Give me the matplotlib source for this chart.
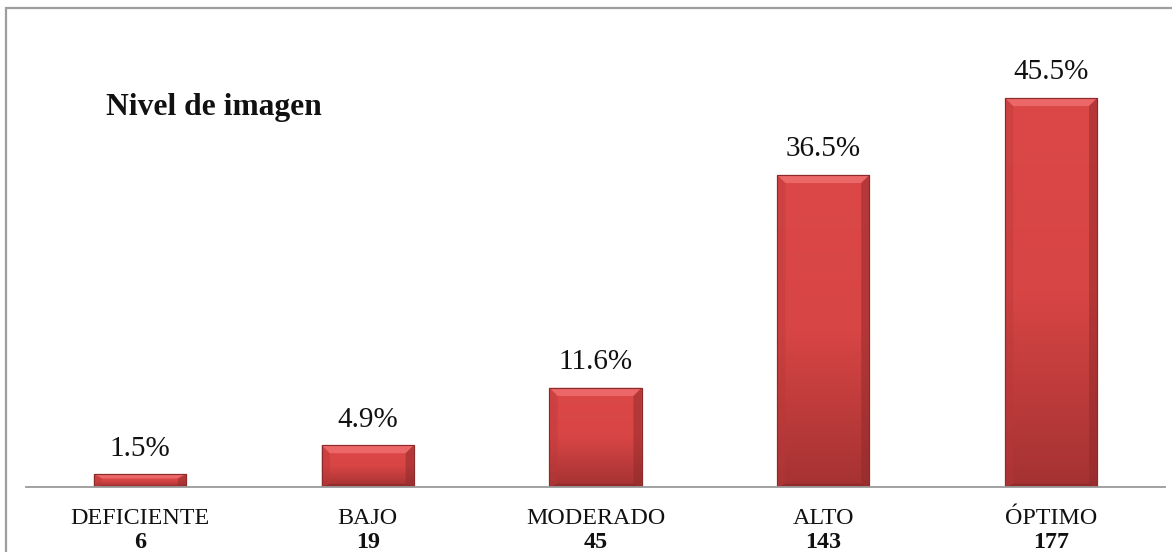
import numpy as np
import matplotlib.pyplot as plt
from matplotlib.patches import Rectangle, Polygon
from matplotlib.colors import LinearSegmentedColormap

# Chart data
categories = ["DEFICIENTE", "BAJO", "MODERADO", "ALTO", "ÓPTIMO"]
counts = [6, 19, 45, 143, 177]
percents = [1.5, 4.9, 11.6, 36.5, 45.5]

SERIF = ["Liberation Serif", "DejaVu Serif"]
BAR_W = 0.405

fig = plt.figure(figsize=(11.72, 5.52), dpi=100)
ax = fig.add_axes([26 / 1172, 65 / 552, (1165 - 26) / 1172, (487 - 20) / 552])

# gray frame around the chart (cut off on the right and bottom like the original)
fig.patches.append(Rectangle((6 / 1172, -0.1), 1.2, (552 - 8) / 552 + 0.1,
                             transform=fig.transFigure, fill=False,
                             edgecolor="#9e9e9e", linewidth=1.6, zorder=0))

x = np.arange(len(categories))
bars = ax.bar(x, percents, width=BAR_W, color="#d44141", edgecolor="#8a2a2a",
              linewidth=0.8, zorder=2)

ax.set_xlim(-0.5, len(categories) - 0.5)
ax.set_ylim(0, (487 - 20) / 8.55)

# gradient fill + bevel for each bar
grad = LinearSegmentedColormap.from_list("g", ["#a53232", "#d84545", "#dc4848"])
gimg = np.linspace(0, 1, 256).reshape(-1, 1)
for b in bars:
    x0, w, h = b.get_x(), b.get_width(), b.get_height()
    im = ax.imshow(gimg, cmap=grad, origin="lower", aspect="auto",
                   extent=(x0, x0 + w, 0, h), zorder=2.1)
    im.set_clip_path(b)
    bx = 0.036
    by = min(0.95, h / 3)
    top = Polygon([(x0, h), (x0 + w, h), (x0 + w - bx, h - by), (x0 + bx, h - by)],
                  closed=True, facecolor="#ef6b6b", edgecolor="none", alpha=0.9, zorder=2.2)
    left = Polygon([(x0, 0), (x0, h), (x0 + bx, h - by), (x0 + bx, by * 0.4)],
                   closed=True, facecolor="#b83838", edgecolor="none", alpha=0.4, zorder=2.2)
    right = Polygon([(x0 + w, 0), (x0 + w, h), (x0 + w - bx, h - by), (x0 + w - bx, by * 0.4)],
                    closed=True, facecolor="#8f2a2a", edgecolor="none", alpha=0.5, zorder=2.2)
    bot = Polygon([(x0, 0), (x0 + w, 0), (x0 + w - bx, by * 0.4), (x0 + bx, by * 0.4)],
                  closed=True, facecolor="#7e2525", edgecolor="none", alpha=0.5, zorder=2.2)
    for p in (top, left, right, bot):
        ax.add_patch(p)
    ax.add_patch(Rectangle((x0, 0), w, h, fill=False, edgecolor="#8a2a2a",
                           linewidth=0.8, zorder=2.3))

# percentage labels above the bars
for xi, p in zip(x, percents):
    ax.annotate(f"{p:.1f}%", (xi, p), xytext=(0, 9), textcoords="offset points",
                ha="center", va="bottom", fontsize=21, family=SERIF, color="#111111")

# category names with counts underneath
for xi, c, n in zip(x, categories, counts):
    ax.annotate(c, (xi, 0), xytext=(0, -22.5), textcoords="offset points",
                ha="center", va="center", fontsize=17.3, family=SERIF, color="#111111",
                annotation_clip=False)
    ax.annotate(str(n), (xi, 0), xytext=(0, -40), textcoords="offset points",
                ha="center", va="center", fontsize=17.3, family=SERIF, weight="bold",
                color="#111111", annotation_clip=False)

ax.set_xticks([])
ax.set_yticks([])
for s in ["top", "right", "left"]:
    ax.spines[s].set_visible(False)
ax.spines["bottom"].set_color("#9a9a9a")
ax.spines["bottom"].set_linewidth(1.3)

fig.text(106 / 1172, 1 - 108 / 552, "Nivel de imagen", ha="left", va="center",
         fontsize=22.7, family=SERIF, weight="bold", color="#111111")

fig.savefig("out.png", dpi=100)
